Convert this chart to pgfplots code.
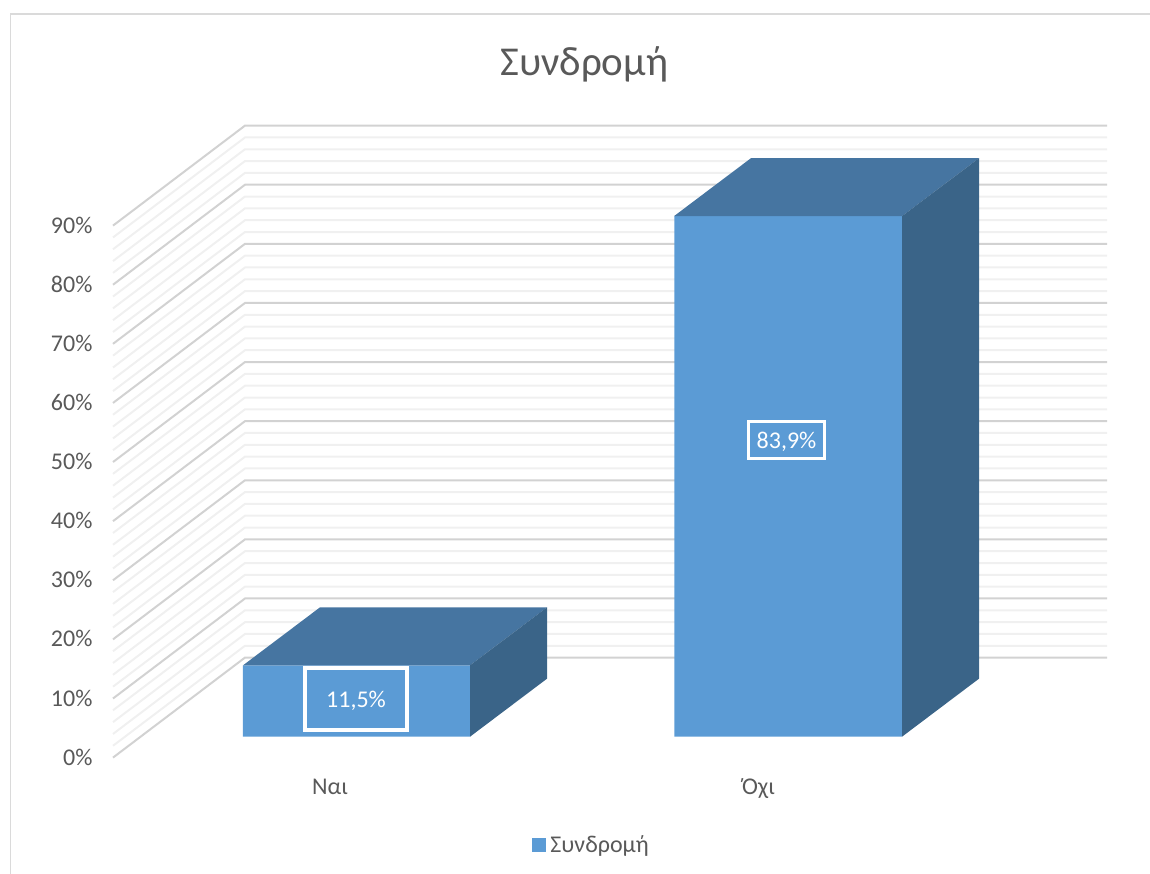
\documentclass[border=0pt]{standalone}
\usepackage{fontspec}
\setmainfont{Carlito}
\usepackage{pgfplots}
\pgfplotsset{compat=1.18}
\definecolor{txt}{HTML}{595959}
\definecolor{frontc}{HTML}{5B9BD5}
\definecolor{topc}{HTML}{4675A1}
\definecolor{sidec}{HTML}{3A6488}
\definecolor{major}{HTML}{D2D2D2}
\definecolor{minor}{HTML}{F0F0F0}
\definecolor{frame}{HTML}{DADADA}
\newcommand{\lab}{\fontsize{24}{29}\selectfont}
\pgfplotsset{
  canvas/.style={
    anchor=south west,
    width=1150pt, height=873pt, scale only axis,
    xmin=0, xmax=1150,
    axis line style={draw=none},
    major tick length=0pt,
    tick style={draw=none},
    clip=false,
    tick label style={font=\lab, text=txt},
  }
}
\begin{document}
\begin{tikzpicture}
\path[use as bounding box] (0pt,0pt) rectangle (1150pt,873pt);
% Walls of the chart box: the left wall runs back to the rear wall at 100 px up, 132 px across
\begin{axis}[canvas, at={(0pt,-0.6pt)},
    ymin=-19.625, ymax=128.07,
    xtick=\empty,
    ytick={0,10,20,30,40,50,60,70,80,90},
    yticklabels={0\%,10\%,20\%,30\%,40\%,50\%,60\%,70\%,80\%,90\%},
    yticklabel style={anchor=east, xshift=96pt, yshift=0.5pt},
    title={Συνδρομή},
    title style={at={(rel axis cs:0.508,0.920)}, anchor=center, font=\fontsize{41}{48}\selectfont, text=txt},
  ]
  \pgfplotsforeachungrouped \p in {0,2,...,90} {
    \pgfmathsetmacro\q{\p+16.92}
    \pgfmathtruncatemacro\m{mod(\p,10)}
    \ifnum\m=0\relax\else
      \edef\tmp{\noexpand\addplot[color=minor, line width=2pt, forget plot] coordinates {(113,\p) (245,\q) (1107,\q)};}
      \tmp
    \fi
  }
  \pgfplotsforeachungrouped \p in {0,10,...,90} {
    \pgfmathsetmacro\q{\p+16.92}
    \edef\tmp{\noexpand\addplot[color=major, line width=2pt, forget plot] coordinates {(113,\p) (245,\q) (1107,\q)};}
    \tmp
  }
  \draw[frame, line width=1.8pt] (rel axis cs:0.00913,0) -- (rel axis cs:0.00913,0.98454) -- (rel axis cs:1,0.98454);
\end{axis}
% Bars: the front plane has its own scale, 6.204 px per percent
\begin{axis}[canvas, at={(0pt,-1pt)},
    ymin=-22.13, ymax=118.58,
    ytick=\empty,
    xtick={330,758.5},
    xticklabels={Ναι,Όχι},
    xticklabel style={anchor=base, yshift=80pt},
    ybar, bar width=227.5pt,
    legend style={at={(rel axis cs:0.4626,0.0337)}, anchor=west, draw=none, fill=none,
      font=\lab, text=txt, inner sep=0pt, outer sep=0pt,
      legend cell align=left, /tikz/every even column/.style={column sep=0pt}},
    legend image code/.code={\fill[frontc] (0pt,-7pt) rectangle (14.5pt,7pt);},
  ]
  \addplot[fill=frontc, draw=none] coordinates {(356.5,11.5) (788,83.9)};
  \addlegendentry{\hspace{2pt}Συνδρομή}
  \addplot[ybar=false, sharp plot, fill=topc, draw=none, forget plot] coordinates {(243,11.5) (470,11.5) (547,20.85) (320,20.85)} --cycle;
  \addplot[ybar=false, sharp plot, fill=sidec, draw=none, forget plot] coordinates {(470,0) (547,9.35) (547,20.85) (470,11.5)} --cycle;
  \addplot[ybar=false, sharp plot, fill=topc, draw=none, forget plot] coordinates {(674,83.9) (902,83.9) (979,93.25) (751,93.25)} --cycle;
  \addplot[ybar=false, sharp plot, fill=sidec, draw=none, forget plot] coordinates {(902,0) (979,9.35) (979,93.25) (902,83.9)} --cycle;
  \node[draw=white, line width=3.5pt, minimum width=102pt, minimum height=62pt, inner sep=0pt] at (axis cs:356,6.05) {};
  \node[draw=white, line width=3.5pt, minimum width=76pt, minimum height=37pt, inner sep=0pt] at (axis cs:786.5,47.8) {};
  \node[text=white, font=\lab, yshift=-1.5pt] at (axis cs:356,6.05) {11,5\%};
  \node[text=white, font=\lab, yshift=-1.5pt] at (axis cs:786.5,47.8) {83,9\%};
\end{axis}
\end{tikzpicture}
\end{document}
